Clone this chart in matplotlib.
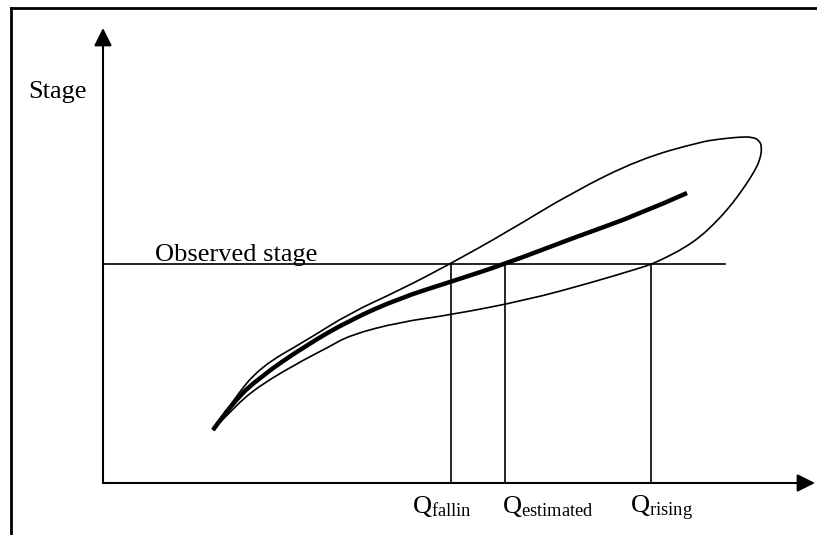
import matplotlib
matplotlib.use("Agg")
import matplotlib.pyplot as plt
from matplotlib.lines import Line2D
from matplotlib.path import Path
from matplotlib.patches import PathPatch

plt.rcParams['font.family'] = ['Liberation Serif', 'DejaVu Serif']
plt.rcParams['mathtext.fontset'] = 'custom'
plt.rcParams['mathtext.rm'] = 'Liberation Serif'
plt.rcParams['mathtext.it'] = 'Liberation Serif:italic'

# hysteresis loop, falling limb (upper) from start to the tip
falling_q = [110, 130, 157, 204, 247, 297, 347, 404, 470, 537, 597, 617, 637, 649, 656, 659]
falling_s = [53, 83, 116, 143, 170, 193, 219, 251, 291, 324, 341, 344, 346, 346, 343, 336]

# rising limb (lower) from the tip back to the start
rising_q = [659, 657, 651, 644, 635, 624, 611, 597, 581, 564, 549, 537, 487, 424, 347, 297, 247, 224, 204, 157, 130, 110]
rising_s = [330, 323, 311, 300, 287, 273, 259, 246, 235, 226, 219, 215, 200, 183, 168, 161, 148, 135, 125, 98, 75, 53]

# steady rating curve (thick)
rating_q = [110, 130, 157, 202, 247, 297, 347, 402, 470, 537, 584]
rating_s = [53, 81, 106, 137, 163, 185, 201, 219, 245, 269, 290]

observed_stage = 219
observed_end = 622
q_marks = [348, 402, 548]
q_names = ["fallin", "estimated", "rising"]
q_label_x = [309, 399, 527]


def smooth_path(qs, ss):
    # quadratic bezier through midpoints, the read points act as controls
    pts = list(zip(qs, ss))
    verts = [pts[0]]
    codes = [Path.MOVETO]
    for i in range(1, len(pts) - 1):
        mid = ((pts[i][0] + pts[i + 1][0]) / 2, (pts[i][1] + pts[i + 1][1]) / 2)
        if i == len(pts) - 2:
            mid = pts[-1]
        verts += [pts[i], mid]
        codes += [Path.CURVE3, Path.CURVE3]
    return Path(verts, codes)


fig = plt.figure(figsize=(8.17, 5.35), dpi=100)
ax = fig.add_axes([0, 0, 1, 1])
ax.set_xlim(-103, 714)
ax.set_ylim(-52, 483)
ax.axis("off")

# frame (only top and left edges are visible)
fig.add_artist(Line2D([11 / 817, 1], [1 - 8 / 535, 1 - 8 / 535], color="black", lw=2))
fig.add_artist(Line2D([11 / 817, 11 / 817], [0, 1 - 8 / 535], color="black", lw=2))

# axes with arrow heads
arrow = dict(arrowstyle="-|>", mutation_scale=27, lw=1.5, color="black",
             shrinkA=0, shrinkB=0)
ax.annotate("", xy=(0, 455), xytext=(0, 0), arrowprops=arrow)
ax.annotate("", xy=(712, 0), xytext=(0, 0), arrowprops=arrow)

# loop
loop = smooth_path(falling_q + rising_q[1:], falling_s + rising_s[1:])
ax.add_patch(PathPatch(loop, fill=False, edgecolor="black", lw=1.2))
rating = smooth_path(rating_q, rating_s)
ax.add_patch(PathPatch(rating, fill=False, edgecolor="black", lw=3.2, capstyle="butt"))

# observed stage and discharges
ax.plot([0, observed_end], [observed_stage, observed_stage], color="black", lw=1.2)
for q in q_marks:
    ax.plot([q, q], [0, observed_stage], color="black", lw=1.2)

ax.text(-75, 385, "Stage", fontsize=19, ha="left", va="baseline")
ax.text(52, 222, "Observed stage", fontsize=19, ha="left", va="baseline")
for x, name in zip(q_label_x, q_names):
    ax.text(x, -30, r"$\mathrm{Q}_{\mathrm{%s}}$" % name, fontsize=19,
            ha="left", va="baseline")

fig.savefig("out.png", dpi=100)
